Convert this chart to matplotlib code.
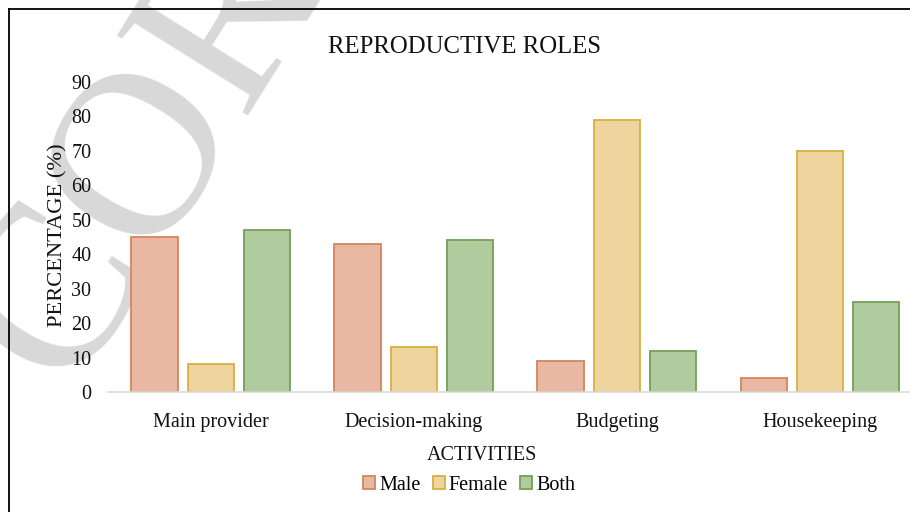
import matplotlib
matplotlib.use("Agg")
import matplotlib.pyplot as plt
import numpy as np
from matplotlib.lines import Line2D
from matplotlib.patches import Patch

activities = ['Main provider', 'Decision-making', 'Budgeting', 'Housekeeping']
male = [45, 43, 9, 4]
female = [8, 13, 79, 70]
both = [47, 44, 12, 26]
series_names = ['Male', 'Female', 'Both']
y_ticks = [0, 10, 20, 30, 40, 50, 60, 70, 80, 90]

fills = ['#e8b8a2', '#eed49d', '#b0cb9e']
edges = ['#d4845f', '#d8b03f', '#72a05a']

plt.rcParams['font.family'] = ['Liberation Serif', 'DejaVu Serif']

W, H = 910, 512
fig = plt.figure(figsize=(W / 100, H / 100), dpi=100)

def fx(px):
    return px / W

def fy(py):
    return 1 - py / H

# watermark
fig.text(fx(185), fy(95), 'CORE', fontsize=170, color='#d8d8d8', rotation=58,
         ha='center', va='center', zorder=0)

# frame (top and left visible)
fig.add_artist(Line2D([fx(9), fx(9)], [fy(9), 0], color='black', lw=1.3))
fig.add_artist(Line2D([fx(9), 1], [fy(9), fy(9)], color='black', lw=1.3))

ax = fig.add_axes([fx(108), fy(392), 1 - fx(108), fy(82) - fy(392)])
ax.set_facecolor('none')
ax.set_zorder(2)

x = np.arange(len(activities))
width = 0.227
offset = 0.278
for i, vals in enumerate([male, female, both]):
    ax.bar(x + (i - 1) * offset, vals, width, color=fills[i], edgecolor=edges[i],
           linewidth=1.3, label=series_names[i])

ax.set_xlim(-0.507, (W - 211) / 203)
ax.set_ylim(0, 90)
ax.set_yticks(y_ticks)
ax.set_xticks(x)
ax.set_xticklabels(activities)
ax.tick_params(axis='both', length=0, labelsize=14.5, colors='#111111')
ax.tick_params(axis='y', pad=12)
ax.tick_params(axis='x', pad=15)
for s in ['top', 'right', 'left']:
    ax.spines[s].set_visible(False)
ax.spines['bottom'].set_color('#d9d9d9')
ax.spines['bottom'].set_linewidth(1.2)

fig.text(fx(465), fy(47), 'REPRODUCTIVE ROLES', fontsize=17.8, ha='center', va='center', color='#111111')
fig.text(fx(58), fy(235), 'PERCENTAGE (%)', fontsize=16.2, rotation=90, ha='center', va='center', color='#111111')
fig.text(fx(482), fy(455), 'ACTIVITIES', fontsize=14.5, ha='center', va='center', color='#111111')

handles = [Patch(facecolor=fills[i], edgecolor=edges[i], linewidth=1.3) for i in range(3)]
fig.legend(handles, series_names, loc='center', bbox_to_anchor=(fx(469), fy(485)), ncol=3,
           frameon=False, fontsize=14.5, handlelength=0.6, handleheight=0.6,
           handletextpad=0.2, columnspacing=0.6, borderaxespad=0)

fig.savefig('out.png', dpi=100)
